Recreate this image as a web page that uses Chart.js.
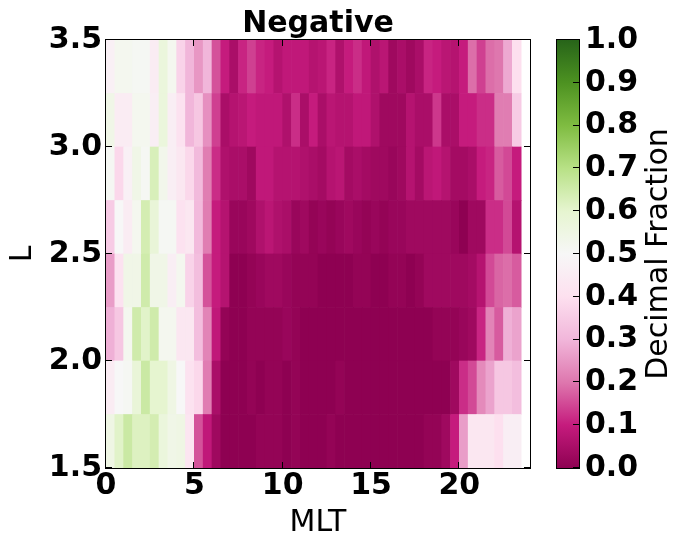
<!DOCTYPE html>
<html>
<head>
<meta charset="utf-8">
<script src="https://cdn.jsdelivr.net/npm/chart.js@4.4.1/dist/chart.umd.min.js"></script>
<style>
  html, body { margin: 0; padding: 0; background: #fff; }
  #wrap { position: relative; width: 676px; height: 543px; }
  #main { position: absolute; left: 0; top: 0; }
  #cbar { position: absolute; left: 540px; top: 0; }
</style>
</head>
<body>
<div id="wrap">
  <canvas id="main" width="540" height="543"></canvas>
  <canvas id="cbar" width="136" height="543"></canvas>
</div>
<script>
// MLT bin centres (half hour bins), last bin 23.5-24 has no data
var mltCenters = [0.25, 0.75, 1.25, 1.75, 2.25, 2.75, 3.25, 3.75, 4.25, 4.75,
                  5.25, 5.75, 6.25, 6.75, 7.25, 7.75, 8.25, 8.75, 9.25, 9.75,
                  10.25, 10.75, 11.25, 11.75, 12.25, 12.75, 13.25, 13.75, 14.25, 14.75,
                  15.25, 15.75, 16.25, 16.75, 17.25, 17.75, 18.25, 18.75, 19.25, 19.75,
                  20.25, 20.75, 21.25, 21.75, 22.25, 22.75, 23.25];
// lower edge of each L bin
var lBins = [1.5, 1.75, 2.0, 2.25, 2.5, 2.75, 3.0, 3.25];
var lBinSize = 0.25;

// decimal fraction per MLT bin, one array per L bin
var frac_L150 = [0.55, 0.61, 0.66, 0.62, 0.62, 0.64, 0.57, 0.54, 0.55, 0.42,
                 0.16, 0.09, 0.03, 0.00, 0.00, 0.00, 0.00, 0.01, 0.01, 0.01,
                 0.00, 0.01, 0.00, 0.00, 0.00, 0.01, 0.00, 0.00, 0.00, 0.00,
                 0.00, 0.00, 0.00, 0.00, 0.00, 0.00, 0.01, 0.01, 0.03, 0.10,
                 0.26, 0.43, 0.43, 0.43, 0.40, 0.46, 0.46];
var frac_L175 = [0.45, 0.50, 0.51, 0.58, 0.66, 0.60, 0.60, 0.55, 0.50, 0.41,
                 0.38, 0.21, 0.05, 0.00, 0.00, 0.00, 0.01, 0.00, 0.01, 0.01,
                 0.00, 0.01, 0.00, 0.00, 0.00, 0.00, 0.01, 0.00, 0.00, 0.00,
                 0.00, 0.00, 0.00, 0.00, 0.00, 0.00, 0.00, 0.00, 0.00, 0.03,
                 0.12, 0.15, 0.23, 0.27, 0.34, 0.34, 0.32];
var frac_L200 = [0.29, 0.34, 0.52, 0.65, 0.61, 0.65, 0.52, 0.52, 0.43, 0.43,
                 0.32, 0.22, 0.09, 0.01, 0.00, 0.00, 0.01, 0.01, 0.01, 0.01,
                 0.02, 0.01, 0.00, 0.00, 0.00, 0.00, 0.00, 0.00, 0.00, 0.00,
                 0.00, 0.00, 0.00, 0.00, 0.00, 0.00, 0.00, 0.01, 0.01, 0.01,
                 0.02, 0.03, 0.11, 0.22, 0.17, 0.29, 0.27];
var frac_L225 = [0.26, 0.41, 0.54, 0.54, 0.65, 0.54, 0.54, 0.46, 0.52, 0.37,
                 0.32, 0.16, 0.10, 0.07, 0.00, 0.00, 0.01, 0.02, 0.03, 0.03,
                 0.02, 0.01, 0.01, 0.01, 0.00, 0.00, 0.00, 0.00, 0.01, 0.01,
                 0.00, 0.00, 0.01, 0.01, 0.00, 0.01, 0.03, 0.03, 0.03, 0.03,
                 0.03, 0.04, 0.07, 0.15, 0.18, 0.19, 0.17];
var frac_L250 = [0.35, 0.50, 0.45, 0.52, 0.64, 0.58, 0.51, 0.51, 0.41, 0.43,
                 0.31, 0.21, 0.10, 0.07, 0.02, 0.02, 0.03, 0.06, 0.08, 0.06,
                 0.05, 0.02, 0.03, 0.01, 0.02, 0.01, 0.02, 0.03, 0.02, 0.01,
                 0.02, 0.01, 0.02, 0.02, 0.03, 0.03, 0.03, 0.03, 0.03, 0.02,
                 0.00, 0.03, 0.03, 0.12, 0.12, 0.15, 0.07];
var frac_L275 = [0.51, 0.38, 0.47, 0.54, 0.51, 0.63, 0.53, 0.46, 0.43, 0.38,
                 0.31, 0.21, 0.12, 0.06, 0.05, 0.05, 0.03, 0.09, 0.09, 0.07,
                 0.07, 0.07, 0.06, 0.05, 0.04, 0.07, 0.08, 0.04, 0.05, 0.04,
                 0.03, 0.03, 0.02, 0.03, 0.07, 0.04, 0.08, 0.09, 0.07, 0.04,
                 0.04, 0.05, 0.10, 0.11, 0.17, 0.15, 0.10];
var frac_L300 = [0.54, 0.45, 0.45, 0.52, 0.52, 0.46, 0.57, 0.46, 0.41, 0.30,
                 0.34, 0.24, 0.14, 0.05, 0.07, 0.08, 0.10, 0.09, 0.09, 0.09,
                 0.06, 0.12, 0.05, 0.10, 0.05, 0.08, 0.07, 0.07, 0.09, 0.09,
                 0.06, 0.03, 0.03, 0.03, 0.07, 0.05, 0.05, 0.13, 0.05, 0.05,
                 0.10, 0.10, 0.12, 0.12, 0.21, 0.21, 0.35];
var frac_L325 = [0.47, 0.52, 0.52, 0.51, 0.51, 0.45, 0.57, 0.52, 0.37, 0.30,
                 0.25, 0.30, 0.16, 0.10, 0.05, 0.11, 0.14, 0.11, 0.10, 0.07,
                 0.09, 0.09, 0.09, 0.07, 0.08, 0.11, 0.06, 0.10, 0.12, 0.09,
                 0.06, 0.08, 0.03, 0.05, 0.03, 0.05, 0.11, 0.10, 0.08, 0.07,
                 0.10, 0.19, 0.14, 0.19, 0.20, 0.28, 0.40];

var xTicks = [0, 5, 10, 15, 20];
var yTicks = [1.5, 2.0, 2.5, 3.0, 3.5];
var cbTicks = [0, 0.1, 0.2, 0.3, 0.4, 0.5, 0.6, 0.7, 0.8, 0.9, 1.0];

// PiYG colormap control points
var piyg = [[142, 1, 82], [197, 27, 125], [222, 119, 174], [241, 182, 218], [253, 224, 239],
            [247, 247, 247], [230, 245, 208], [184, 225, 134], [127, 188, 65], [77, 146, 33], [39, 100, 25]];

function piygColor(v) {
    var t = Math.max(0, Math.min(1, v)) * 10;
    var i = Math.min(9, Math.floor(t));
    var f = t - i;
    var a = piyg[i], b = piyg[i + 1];
    var c = [0, 1, 2].map(function(k){ return Math.round(a[k] + (b[k] - a[k]) * f); });
    return 'rgb(' + c.join(',') + ')';
}

var FONT = 'DejaVu Sans';
var boldTick = {family: FONT, size: 30, weight: 'bold'};

var rows = [frac_L150, frac_L175, frac_L200, frac_L225, frac_L250, frac_L275, frac_L300, frac_L325];
var datasets = rows.map(function(row, r){
    return {
        data: row.map(function(v, i){
            return {x: mltCenters[i], y: [lBins[r], lBins[r] + lBinSize]};
        }),
        backgroundColor: row.map(piygColor),
        borderWidth: 0,
        grouped: false,
        barPercentage: 1,
        categoryPercentage: 1
    };
});

// spines and inward tick marks
var frameTicks = {
    id: 'frameTicks',
    afterDraw: function(chart){
        var ctx = chart.ctx, a = chart.chartArea;
        var xs = chart.scales.x, ys = chart.scales.y;
        var len = 6;
        ctx.save();
        ctx.strokeStyle = '#000';
        ctx.lineWidth = 1;
        ctx.beginPath();
        xTicks.forEach(function(v){
            var px = Math.round(xs.getPixelForValue(v)) - 0.5;
            ctx.moveTo(px, a.bottom); ctx.lineTo(px, a.bottom - len);
            ctx.moveTo(px, a.top); ctx.lineTo(px, a.top + len);
        });
        yTicks.forEach(function(v){
            var py = Math.round(ys.getPixelForValue(v)) - 0.5;
            ctx.moveTo(a.left, py); ctx.lineTo(a.left + len, py);
            ctx.moveTo(a.right, py); ctx.lineTo(a.right - len, py);
        });
        ctx.stroke();
        ctx.strokeRect(a.left - 0.5, a.top - 0.5, a.right - a.left + 1, a.bottom - a.top + 1);
        ctx.restore();
    }
};

new Chart(document.getElementById('main'), {
    type: 'bar',
    data: {datasets: datasets},
    options: {
        responsive: false,
        animation: false,
        layout: {padding: {left: 0, right: 10, top: 0, bottom: 0}},
        plugins: {
            legend: {display: false},
            tooltip: {enabled: false},
            title: {
                display: true, text: 'Negative', fullSize: false, color: '#000',
                font: {family: FONT, size: 30, weight: 'bold', lineHeight: 1},
                padding: {top: 9, bottom: 1}
            }
        },
        scales: {
            x: {
                type: 'linear', min: 0, max: 24, offset: false,
                afterBuildTicks: function(s){ s.ticks = xTicks.map(function(v){ return {value: v}; }); },
                afterFit: function(s){ s.height = 75; },
                grid: {display: false, drawTicks: false},
                border: {display: false},
                ticks: {font: boldTick, color: '#000', padding: 0, maxRotation: 0, autoSkip: false,
                        callback: function(v){ return String(v); }},
                title: {display: true, text: 'MLT', color: '#000', font: {family: FONT, size: 30},
                        padding: {top: 0, bottom: 2}}
            },
            y: {
                type: 'linear', min: 1.5, max: 3.5,
                afterBuildTicks: function(s){ s.ticks = yTicks.map(function(v){ return {value: v}; }); },
                afterFit: function(s){ s.width = 106; },
                grid: {display: false, drawTicks: false},
                border: {display: false},
                ticks: {font: boldTick, color: '#000', padding: 4, autoSkip: false,
                        callback: function(v){ return v.toFixed(1); }},
                title: {display: true, text: 'L', color: '#000', font: {family: FONT, size: 30},
                        padding: {top: 5, bottom: 0}}
            }
        }
    },
    plugins: [frameTicks]
});

// colour bar
var cbarFrame = {
    id: 'cbarFrame',
    afterDraw: function(chart){
        var ctx = chart.ctx, a = chart.chartArea, ys = chart.scales.y;
        ctx.save();
        ctx.strokeStyle = '#000';
        ctx.lineWidth = 1;
        ctx.beginPath();
        cbTicks.forEach(function(v){
            var py = Math.round(ys.getPixelForValue(v)) - 0.5;
            ctx.moveTo(a.right, py); ctx.lineTo(a.right - 6, py);
        });
        ctx.stroke();
        ctx.strokeRect(a.left - 0.5, a.top - 0.5, a.right - a.left + 1, a.bottom - a.top + 1);
        ctx.translate(119, (a.top + a.bottom) / 2);
        ctx.rotate(-Math.PI / 2);
        ctx.fillStyle = '#000';
        ctx.font = '30px "DejaVu Sans"';
        ctx.textAlign = 'center';
        ctx.textBaseline = 'middle';
        ctx.fillText('Decimal Fraction', 0, 0);
        ctx.restore();
    }
};

new Chart(document.getElementById('cbar'), {
    type: 'bar',
    data: {
        labels: ['cb'],
        datasets: [{
            data: [[0, 1]],
            borderWidth: 0,
            barPercentage: 1,
            categoryPercentage: 1,
            backgroundColor: function(c){
                var chart = c.chart;
                if (!chart.chartArea) return piygColor(0.5);
                var ys = chart.scales.y;
                var g = chart.ctx.createLinearGradient(0, ys.getPixelForValue(0), 0, ys.getPixelForValue(1));
                piyg.forEach(function(col, i){ g.addColorStop(i / 10, 'rgb(' + col.join(',') + ')'); });
                return g;
            }
        }]
    },
    options: {
        responsive: false,
        animation: false,
        layout: {padding: {left: 17, right: 0, top: 40, bottom: 75}},
        plugins: {legend: {display: false}, tooltip: {enabled: false}},
        scales: {
            x: {display: false},
            y: {
                position: 'right', min: 0, max: 1,
                afterBuildTicks: function(s){ s.ticks = cbTicks.map(function(v){ return {value: v}; }); },
                afterFit: function(s){ s.width = 97; },
                grid: {display: false, drawTicks: false},
                border: {display: false},
                ticks: {font: boldTick, color: '#000', padding: 6, autoSkip: false,
                        callback: function(v){ return v.toFixed(1); }}
            }
        }
    },
    plugins: [cbarFrame]
});
</script>
</body>
</html>
